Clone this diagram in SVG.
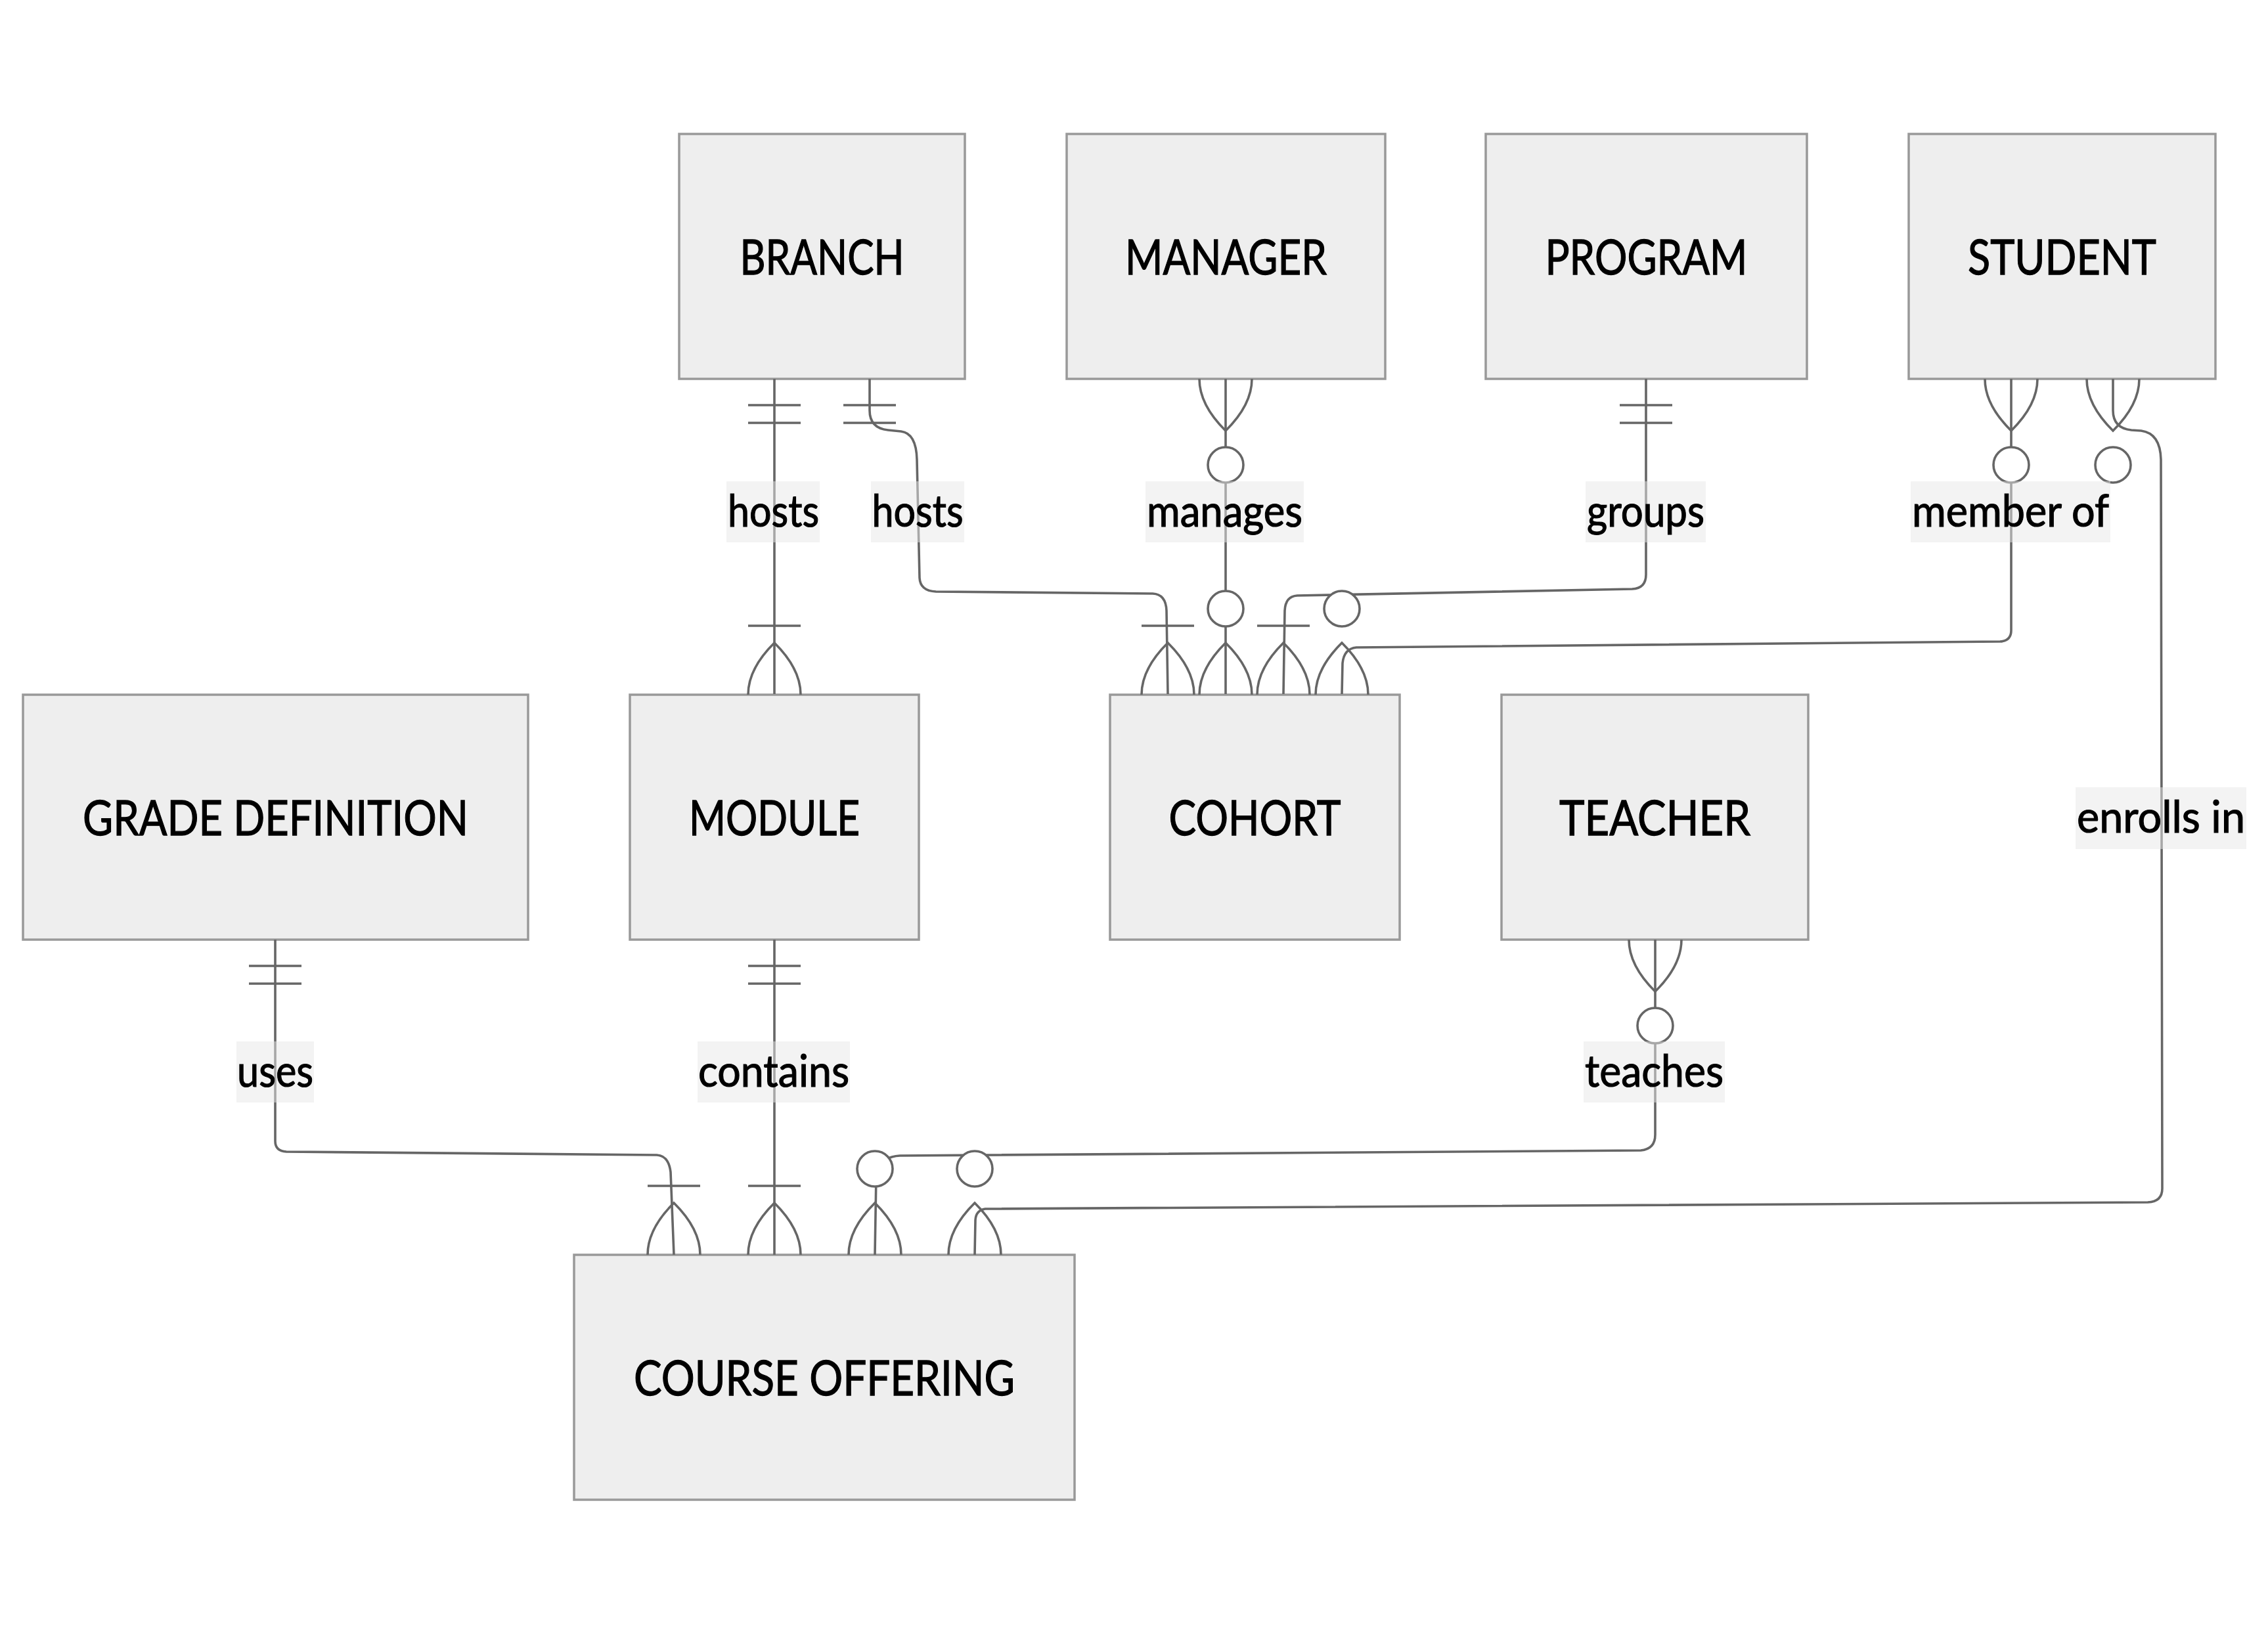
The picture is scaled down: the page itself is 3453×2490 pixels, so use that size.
<svg xmlns="http://www.w3.org/2000/svg" xmlns:xlink="http://www.w3.org/1999/xlink" width="3453" height="2490" viewBox="0 0 3453 2490">
<style>
.ent rect{fill:#eeeeee;stroke:#999999;stroke-width:3.5}
.ent text{font-family:Lato,"Open Sans","Liberation Sans",sans-serif;font-size:74px;fill:#000;stroke:#000;stroke-width:1.3;text-anchor:middle}
.rel{fill:none;stroke:#666666;stroke-width:3.6}
.mk{fill:none;stroke:#666666;stroke-width:3.6}
.mk circle{fill:#ffffff}
.lbl rect{fill:#e8e8e8;fill-opacity:0.5}
.lbl text{font-family:Lato,"Open Sans","Liberation Sans",sans-serif;font-size:68px;fill:#000;stroke:#000;stroke-width:1.2;text-anchor:middle}
</style>
<defs>
<g id="one" class="mk"><path d="M-40,-40H40M-40,-67H40"/></g>
<g id="oneMany" class="mk"><path d="M-40,-105H40M-40,0Q-40,-39.5 0,-79Q40,-39.5 40,0"/></g>
<g id="zeroMany" class="mk"><path d="M-40,0Q-40,-39.5 0,-79Q40,-39.5 40,0"/><circle cx="0" cy="-131" r="27"/></g>
</defs>
<rect width="3453" height="2490" fill="#ffffff"/>
<g id="entities">
<g id="BRANCH" class="ent"><rect x="1034" y="204" width="435" height="373"/><text x="1251.5" y="417.5" textLength="250" lengthAdjust="spacingAndGlyphs">BRANCH</text></g>
<g id="MANAGER" class="ent"><rect x="1624" y="204" width="485" height="373"/><text x="1866.5" y="417.5" textLength="307" lengthAdjust="spacingAndGlyphs">MANAGER</text></g>
<g id="PROGRAM" class="ent"><rect x="2262" y="204" width="489" height="373"/><text x="2506.5" y="417.5" textLength="308" lengthAdjust="spacingAndGlyphs">PROGRAM</text></g>
<g id="STUDENT" class="ent"><rect x="2906" y="204" width="467" height="373"/><text x="3139.5" y="417.5" textLength="287" lengthAdjust="spacingAndGlyphs">STUDENT</text></g>
<g id="GRADE_DEFINITION" class="ent"><rect x="35" y="1058" width="769" height="373"/><text x="419.5" y="1271.5" textLength="587" lengthAdjust="spacingAndGlyphs">GRADE DEFINITION</text></g>
<g id="MODULE" class="ent"><rect x="959" y="1058" width="440" height="373"/><text x="1179" y="1271.5" textLength="260" lengthAdjust="spacingAndGlyphs">MODULE</text></g>
<g id="COHORT" class="ent"><rect x="1690" y="1058" width="441" height="373"/><text x="1910.5" y="1271.5" textLength="262" lengthAdjust="spacingAndGlyphs">COHORT</text></g>
<g id="TEACHER" class="ent"><rect x="2286" y="1058" width="467" height="373"/><text x="2519.5" y="1271.5" textLength="291" lengthAdjust="spacingAndGlyphs">TEACHER</text></g>
<g id="COURSE_OFFERING" class="ent"><rect x="874" y="1911" width="762" height="373"/><text x="1255" y="2124.5" textLength="580" lengthAdjust="spacingAndGlyphs">COURSE OFFERING</text></g>
</g>
<g id="connectors">
<path class="rel" d="M1179,577L1179,1057"/>
<path class="rel" d="M1324,577L1324,625Q1324,652 1352,655L1372,657Q1395,660 1396,700L1400,880Q1401,900 1425,901L1755,904Q1775,905 1776,930L1778,1057"/>
<path class="rel" d="M1866,577L1866,1057"/>
<path class="rel" d="M2506,577L2506,875Q2506,896 2485,897L1975,907Q1957,908 1956,930L1954,1057"/>
<path class="rel" d="M3062,577L3062,960Q3062,976 3045,977L2065,986Q2046,988 2044,1010L2043,1057"/>
<path class="rel" d="M3217,577L3217,625Q3217,652 3245,655L3260,656Q3289,660 3290,700L3292,1810Q3292,1830 3270,1831L1500,1841Q1486,1843 1485,1858L1484,1911"/>
<path class="rel" d="M2520,1431L2520,1728Q2520,1750 2498,1752L1370,1760Q1338,1762 1334,1790L1332,1911"/>
<path class="rel" d="M419,1431L419,1738Q419,1753 436,1754L1000,1759Q1018,1760 1021,1785L1026,1911"/>
<path class="rel" d="M1179,1431L1179,1911"/>
<g id="markers">
<use xlink:href="#one" transform="translate(1179,577) scale(1,-1)"/>
<use xlink:href="#one" transform="translate(1324,577) scale(1,-1)"/>
<use xlink:href="#zeroMany" transform="translate(1866,577) scale(1,-1)"/>
<use xlink:href="#one" transform="translate(2506,577) scale(1,-1)"/>
<use xlink:href="#zeroMany" transform="translate(3062,577) scale(1,-1)"/>
<use xlink:href="#zeroMany" transform="translate(3217,577) scale(1,-1)"/>
<use xlink:href="#oneMany" transform="translate(1179,1058)"/>
<use xlink:href="#oneMany" transform="translate(1778,1058)"/>
<use xlink:href="#zeroMany" transform="translate(1866,1058)"/>
<use xlink:href="#oneMany" transform="translate(1954,1058)"/>
<use xlink:href="#zeroMany" transform="translate(2043,1058)"/>
<use xlink:href="#one" transform="translate(419,1431) scale(1,-1)"/>
<use xlink:href="#one" transform="translate(1179,1431) scale(1,-1)"/>
<use xlink:href="#zeroMany" transform="translate(2520,1431) scale(1,-1)"/>
<use xlink:href="#oneMany" transform="translate(1026,1911)"/>
<use xlink:href="#oneMany" transform="translate(1179,1911)"/>
<use xlink:href="#zeroMany" transform="translate(1332,1911)"/>
<use xlink:href="#zeroMany" transform="translate(1484,1911)"/>
</g>
<g id="labels">
<g class="lbl"><rect x="1106" y="733" width="142" height="93"/><text x="1177.5" y="801.5" textLength="139" lengthAdjust="spacingAndGlyphs">hosts</text></g>
<g class="lbl"><rect x="1326" y="733" width="142" height="93"/><text x="1397" y="801.5" textLength="139" lengthAdjust="spacingAndGlyphs">hosts</text></g>
<g class="lbl"><rect x="1744" y="733" width="241" height="93"/><text x="1864.5" y="801.5" textLength="237" lengthAdjust="spacingAndGlyphs">manages</text></g>
<g class="lbl"><rect x="2414" y="733" width="183" height="93"/><text x="2505.5" y="801.5" textLength="179" lengthAdjust="spacingAndGlyphs">groups</text></g>
<g class="lbl"><rect x="2909" y="733" width="304" height="93"/><text x="3061" y="801.5" textLength="300" lengthAdjust="spacingAndGlyphs">member of</text></g>
<g class="lbl"><rect x="3160" y="1199" width="260" height="94"/><text x="3290" y="1268" textLength="256" lengthAdjust="spacingAndGlyphs">enrolls in</text></g>
<g class="lbl"><rect x="360" y="1586" width="118" height="93"/><text x="419" y="1655" textLength="116" lengthAdjust="spacingAndGlyphs">uses</text></g>
<g class="lbl"><rect x="1062" y="1586" width="232" height="93"/><text x="1178" y="1655" textLength="230" lengthAdjust="spacingAndGlyphs">contains</text></g>
<g class="lbl"><rect x="2411" y="1586" width="215" height="93"/><text x="2518.5" y="1655" textLength="211" lengthAdjust="spacingAndGlyphs">teaches</text></g>
</g>
</g>
</svg>
